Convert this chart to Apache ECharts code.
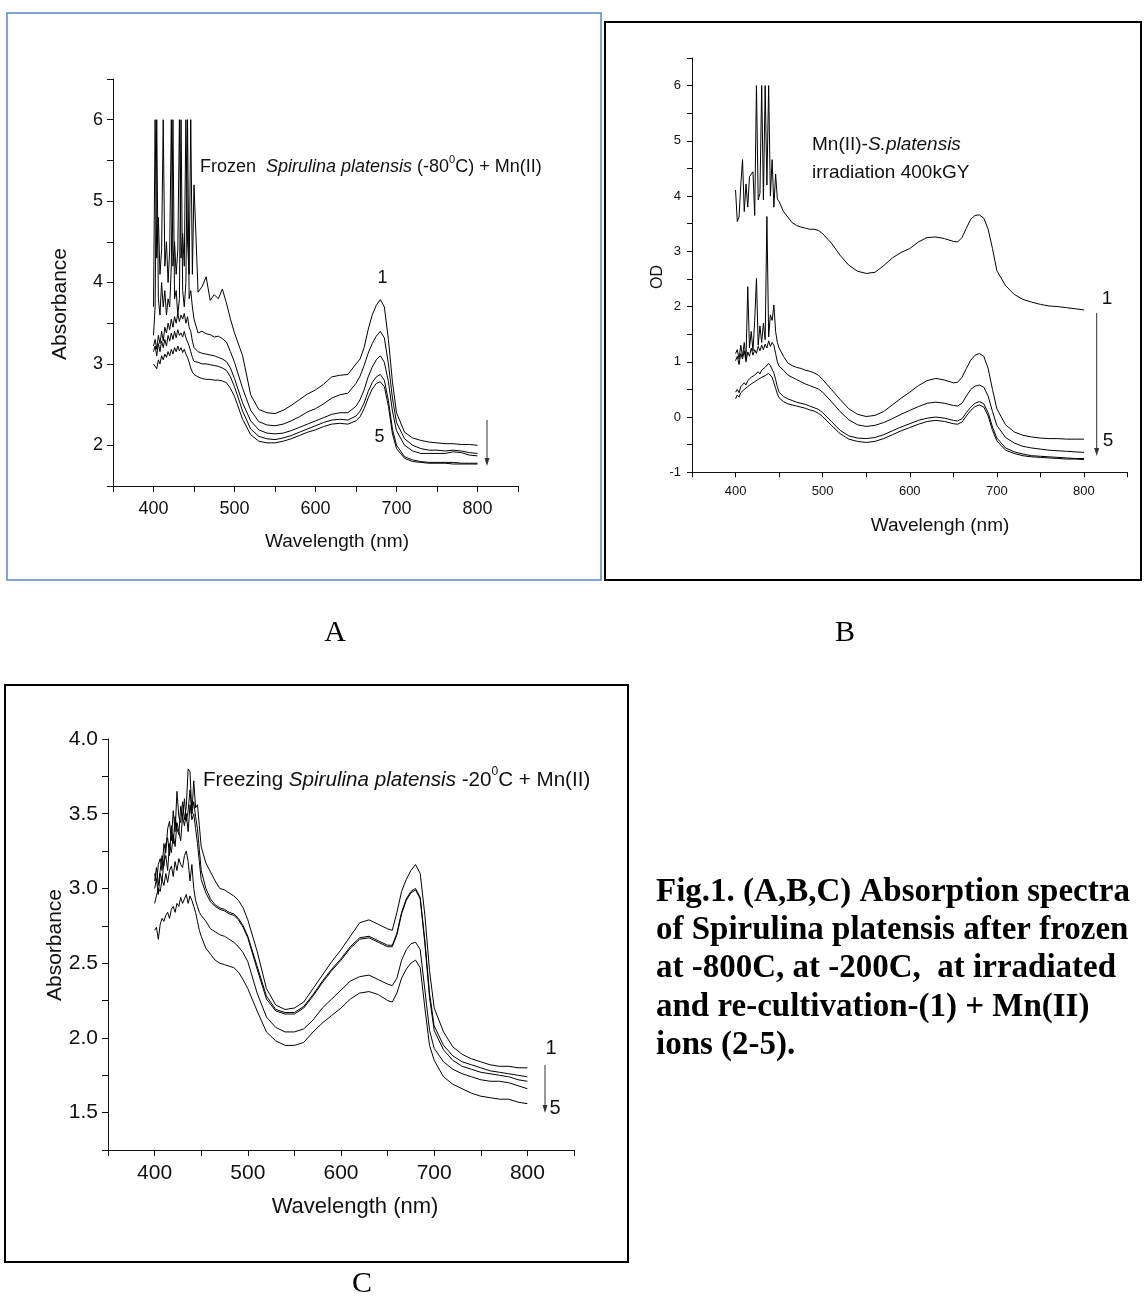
<!DOCTYPE html>
<html>
<head>
<meta charset="utf-8">
<script src="https://cdn.jsdelivr.net/npm/echarts@6/dist/echarts.min.js"></script>
<style>html,body{margin:0;padding:0;background:#fff;}#c{width:1146px;height:1298px;}</style>
</head>
<body>
<div id="c"></div>
<script>
// wavelengths (nm) shared by all curves
const WL = [400,402,404,406,408,410,412,414,416,418,420,422,424,426,428,430,432,434,436,438,440,442,444,446,448,450,
 455,460,465,470,475,480,485,490,495,500,
 510,520,530,540,550,560,570,580,590,600,610,620,630,640,650,
 655,660,665,670,675,680,685,690,695,700,
 710,720,730,740,750,760,770,780,790,800];

// Panel A: Frozen Spirulina platensis (-80C) + Mn(II)
const A1 = [3.70,6.0,4.3,4.8,4.1,4.4,6.0,4.2,4.5,4.0,4.4,6.0,4.2,4.5,4.1,4.4,6.0,4.3,4.6,4.2,6.0,4.5,4.1,6.0,4.1,5.2,
 3.88,3.95,4.07,3.78,3.85,3.80,3.92,3.75,3.55,3.38,
 3.10,2.62,2.44,2.40,2.39,2.43,2.49,2.56,2.63,2.68,2.75,2.84,2.86,2.87,3.00,
 3.06,3.20,3.42,3.60,3.72,3.79,3.70,3.30,2.78,2.40,
 2.16,2.09,2.06,2.04,2.03,2.02,2.02,2.01,2.01,2.00];
const A2 = [3.35,3.7,6.0,3.8,3.6,4.0,3.7,3.9,3.6,3.8,3.7,4.2,6.0,3.8,3.9,3.6,3.8,6.0,3.9,3.7,4.0,6.0,3.8,3.9,3.7,3.55,
 3.38,3.40,3.37,3.36,3.33,3.34,3.31,3.27,3.15,3.02,
 2.70,2.43,2.29,2.25,2.24,2.26,2.30,2.35,2.41,2.45,2.51,2.58,2.62,2.64,2.76,
 2.85,2.98,3.13,3.25,3.34,3.40,3.32,3.00,2.58,2.28,
 2.08,2.00,1.96,1.94,1.94,1.93,1.94,1.93,1.91,1.90];
const A3 = [3.22,3.30,3.18,3.35,3.25,3.40,3.28,3.45,3.38,3.50,3.42,3.55,3.45,3.58,3.50,3.62,3.52,3.60,3.55,3.62,3.50,3.58,3.45,3.40,3.28,3.20,
 3.15,3.13,3.12,3.11,3.10,3.08,3.06,3.03,2.95,2.82,
 2.52,2.30,2.19,2.15,2.14,2.15,2.18,2.22,2.26,2.30,2.34,2.38,2.40,2.40,2.48,
 2.56,2.68,2.84,2.96,3.05,3.10,3.02,2.78,2.42,2.18,
 2.00,1.93,1.90,1.90,1.90,1.90,1.92,1.91,1.88,1.87];
const A4 = [3.15,3.22,3.10,3.25,3.15,3.28,3.20,3.30,3.22,3.35,3.28,3.38,3.30,3.40,3.32,3.42,3.35,3.38,3.33,3.40,3.32,3.30,3.22,3.15,3.08,3.03,
 3.02,3.00,3.00,2.99,2.98,2.97,2.95,2.92,2.84,2.72,
 2.42,2.20,2.11,2.08,2.07,2.09,2.12,2.16,2.20,2.24,2.28,2.31,2.32,2.31,2.36,
 2.42,2.52,2.66,2.77,2.84,2.87,2.80,2.55,2.20,2.00,
 1.86,1.82,1.80,1.79,1.79,1.79,1.79,1.78,1.78,1.78];
const A5 = [3.00,3.02,2.94,3.05,3.00,3.10,3.05,3.12,3.08,3.15,3.10,3.18,3.12,3.20,3.15,3.22,3.16,3.20,3.14,3.18,3.12,3.08,3.02,2.95,2.90,2.87,
 2.84,2.82,2.81,2.81,2.80,2.80,2.79,2.77,2.70,2.60,
 2.32,2.13,2.05,2.03,2.03,2.05,2.08,2.12,2.16,2.19,2.23,2.26,2.27,2.26,2.30,
 2.35,2.45,2.58,2.69,2.76,2.78,2.72,2.48,2.14,1.96,
 1.84,1.80,1.79,1.78,1.78,1.78,1.77,1.77,1.77,1.77];

// Panel B: Mn(II)-S.platensis, irradiation 400kGY
const B1 = [4.11,3.54,3.62,4.20,4.66,3.72,4.22,3.80,4.35,4.40,4.44,3.65,6.0,3.93,4.05,6.0,3.93,6.0,4.2,6.0,4.0,4.66,3.80,4.40,3.95,3.90,
 3.72,3.62,3.52,3.47,3.44,3.42,3.40,3.40,3.38,3.32,
 3.15,2.93,2.75,2.64,2.60,2.62,2.74,2.88,2.98,3.05,3.17,3.25,3.26,3.23,3.18,
 3.17,3.25,3.42,3.58,3.65,3.66,3.60,3.40,3.05,2.65,
 2.38,2.22,2.13,2.08,2.04,2.01,2.00,1.98,1.96,1.94];
const B2 = [1.15,1.22,1.05,1.30,1.10,1.35,1.05,2.36,1.25,1.55,1.20,1.75,2.51,1.30,1.65,1.35,1.70,1.40,3.63,1.45,1.85,1.75,2.03,1.55,1.35,1.25,
 1.10,0.98,0.93,0.90,0.88,0.85,0.83,0.80,0.76,0.68,
 0.50,0.32,0.15,0.05,0.01,0.03,0.10,0.22,0.34,0.45,0.57,0.66,0.70,0.67,0.62,
 0.63,0.72,0.88,1.03,1.12,1.15,1.10,0.88,0.50,0.15,
 -0.14,-0.27,-0.33,-0.36,-0.38,-0.39,-0.39,-0.40,-0.40,-0.40];
const B3 = [1.02,1.10,0.95,1.15,1.05,1.20,1.00,1.18,1.10,1.25,1.12,1.22,1.15,1.28,1.20,1.30,1.22,1.32,1.25,1.38,1.28,1.35,1.30,1.15,1.00,0.92,
 0.85,0.76,0.72,0.68,0.64,0.60,0.57,0.54,0.51,0.45,
 0.28,0.10,-0.05,-0.14,-0.17,-0.15,-0.10,-0.03,0.05,0.12,0.19,0.25,0.27,0.25,0.21,
 0.20,0.25,0.38,0.50,0.56,0.58,0.54,0.38,0.10,-0.15,
 -0.37,-0.47,-0.53,-0.56,-0.58,-0.60,-0.61,-0.62,-0.63,-0.64];
const B4 = [0.45,0.50,0.44,0.55,0.52,0.62,0.58,0.66,0.64,0.72,0.70,0.76,0.74,0.82,0.78,0.85,0.83,0.90,0.88,0.97,0.93,0.90,0.80,0.68,0.55,0.45,
 0.37,0.33,0.30,0.27,0.25,0.23,0.20,0.17,0.14,0.08,
 -0.08,-0.24,-0.34,-0.38,-0.39,-0.37,-0.32,-0.25,-0.18,-0.12,-0.06,-0.02,0.00,-0.02,-0.06,
 -0.07,-0.03,0.08,0.18,0.25,0.28,0.24,0.08,-0.18,-0.38,
 -0.56,-0.63,-0.67,-0.70,-0.71,-0.72,-0.73,-0.74,-0.75,-0.75];
const B5 = [0.33,0.40,0.36,0.44,0.42,0.50,0.48,0.55,0.53,0.60,0.58,0.64,0.62,0.68,0.66,0.72,0.70,0.75,0.73,0.79,0.76,0.72,0.62,0.52,0.42,0.35,
 0.28,0.24,0.22,0.20,0.18,0.16,0.13,0.11,0.07,0.01,
 -0.15,-0.30,-0.40,-0.44,-0.46,-0.44,-0.39,-0.32,-0.25,-0.19,-0.13,-0.08,-0.06,-0.08,-0.12,
 -0.13,-0.09,0.02,0.12,0.19,0.22,0.18,0.02,-0.24,-0.43,
 -0.60,-0.66,-0.70,-0.72,-0.73,-0.74,-0.75,-0.76,-0.76,-0.77];

// Panel C: Freezing Spirulina platensis -20C + Mn(II)
const C1 = [3.10,3.04,3.16,3.20,3.12,3.30,3.24,3.40,3.45,3.32,3.52,3.38,3.65,3.48,3.44,3.58,3.46,3.55,3.80,3.78,3.50,3.72,3.54,3.56,3.42,3.28,
 3.17,3.11,3.05,3.00,2.99,2.97,2.95,2.92,2.87,2.79,
 2.58,2.33,2.22,2.19,2.20,2.24,2.33,2.42,2.51,2.59,2.68,2.77,2.79,2.76,2.73,
 2.72,2.84,2.98,3.06,3.12,3.16,3.10,2.82,2.45,2.20,
 2.04,1.94,1.89,1.86,1.84,1.82,1.81,1.81,1.80,1.80];
const C2 = [3.05,3.14,3.02,3.12,3.22,3.15,3.30,3.34,3.22,3.42,3.30,3.48,3.40,3.36,3.55,3.48,3.60,3.45,3.52,3.66,3.50,3.58,3.48,3.40,3.26,3.12,
 3.00,2.93,2.89,2.87,2.86,2.84,2.83,2.80,2.75,2.68,
 2.48,2.28,2.19,2.17,2.17,2.21,2.29,2.38,2.46,2.53,2.61,2.67,2.68,2.65,2.62,
 2.62,2.70,2.84,2.93,2.98,3.00,2.94,2.65,2.30,2.08,
 1.95,1.88,1.84,1.82,1.80,1.78,1.77,1.76,1.75,1.74];
const C3 = [3.00,3.06,2.96,3.10,3.05,3.18,3.22,3.12,3.30,3.24,3.36,3.28,3.44,3.38,3.32,3.48,3.42,3.50,3.38,3.56,3.46,3.50,3.40,3.30,3.18,3.06,
 2.97,2.91,2.88,2.86,2.85,2.83,2.82,2.79,2.74,2.67,
 2.46,2.26,2.18,2.16,2.16,2.20,2.28,2.37,2.45,2.52,2.60,2.66,2.67,2.64,2.61,
 2.61,2.69,2.83,2.92,2.97,2.99,2.93,2.63,2.27,2.05,
 1.92,1.85,1.81,1.79,1.77,1.76,1.75,1.74,1.72,1.71];
const C4 = [2.90,2.95,3.00,2.98,3.06,3.02,3.10,3.04,3.12,3.15,3.08,3.18,3.12,3.20,3.16,3.14,3.22,3.25,3.18,3.05,3.16,3.00,2.92,2.88,2.84,2.82,
 2.78,2.73,2.71,2.69,2.68,2.66,2.64,2.61,2.57,2.51,
 2.30,2.14,2.07,2.04,2.04,2.06,2.12,2.20,2.26,2.32,2.38,2.41,2.42,2.39,2.36,
 2.35,2.40,2.52,2.59,2.63,2.64,2.59,2.32,2.05,1.93,
 1.84,1.79,1.76,1.74,1.72,1.71,1.71,1.70,1.68,1.66];
const C5 = [2.72,2.74,2.66,2.76,2.80,2.78,2.82,2.84,2.80,2.86,2.88,2.84,2.90,2.88,2.94,2.90,2.93,2.96,2.90,2.95,2.92,2.88,2.84,2.78,2.72,2.68,
 2.60,2.56,2.52,2.50,2.49,2.48,2.47,2.44,2.39,2.33,
 2.18,2.04,1.98,1.95,1.95,1.97,2.04,2.10,2.15,2.20,2.26,2.30,2.31,2.29,2.25,
 2.24,2.30,2.40,2.46,2.50,2.52,2.47,2.20,1.95,1.85,
 1.74,1.69,1.66,1.63,1.61,1.60,1.59,1.59,1.57,1.56];

const SANS = '"Liberation Sans", Arial, sans-serif';
const SERIF = '"Liberation Serif", "Times New Roman", serif';
const INK = '#111';

const chart = echarts.init(document.getElementById('c'), null, {renderer: 'canvas'});

function pairs(arr) { return arr.map((v, i) => [WL[i], v]); }

function xAx(gi, fs, margin, tick) {
  return {
    gridIndex: gi, type: 'value', min: 350, max: 850, interval: 50,
    axisLine: {onZero: false, lineStyle: {color: INK, width: 1}},
    axisTick: {show: true, length: tick, lineStyle: {color: INK, width: 1}},
    axisLabel: {color: INK, fontFamily: SANS, fontSize: fs, margin: margin,
      formatter: v => (v % 100 === 0 ? String(v) : '')},
    splitLine: {show: false}
  };
}
function yAx(gi, min, max, step, fs, margin, tick, fmt) {
  return {
    gridIndex: gi, type: 'value', min: min, max: max, interval: step,
    axisLine: {show: true, onZero: false, lineStyle: {color: INK, width: 1}},
    axisTick: {show: true, length: tick, lineStyle: {color: INK, width: 1}},
    axisLabel: {color: INK, fontFamily: SANS, fontSize: fs, margin: margin, formatter: fmt},
    splitLine: {show: false}
  };
}
const intFmt = v => (Math.abs(v - Math.round(v)) < 1e-6 ? String(Math.round(v)) : '');
const halfFmt = v => (Math.abs(v * 2 - Math.round(v * 2)) < 1e-6 ? v.toFixed(1) : '');

function line(arr, gi) {
  return {type: 'line', xAxisIndex: gi, yAxisIndex: gi, data: pairs(arr), showSymbol: false, symbol: 'none',
    smooth: false, lineStyle: {color: '#000', width: 1}, silent: true, animation: false};
}

function txt(x, y, text, size, opts) {
  return Object.assign({type: 'text', z: 10, style: Object.assign({x: x, y: y, text: text,
    font: size + 'px ' + SANS, fill: INK, align: 'left', verticalAlign: 'middle'}, (opts && opts.style) || {})},
    opts && opts.rot ? {rotation: opts.rot, x: x, y: y, style: Object.assign({x: 0, y: 0, text: text, font: size + 'px ' + SANS, fill: INK, align: 'center', verticalAlign: 'middle'}, (opts && opts.style) || {})} : {});
}
function richTitle(x, y, size, parts) {
  return {type: 'text', z: 10, style: {x: x, y: y, text: parts, align: 'left', verticalAlign: 'middle',
    fill: INK, font: size + 'px ' + SANS,
    rich: {
      n: {fontFamily: SANS, fontSize: size, lineHeight: size + 8, fill: INK},
      i: {fontFamily: SANS, fontSize: size, fontStyle: 'italic', lineHeight: size + 8, fill: INK},
      s: {fontFamily: SANS, fontSize: Math.round(size * 0.6), lineHeight: Math.round(size * 0.6), verticalAlign: 'top', fill: INK}
    }}};
}
function arrow(x, y1, y2) {
  return [
    {type: 'line', shape: {x1: x, y1: y1, x2: x, y2: y2 - 6}, style: {stroke: '#333', lineWidth: 1}},
    {type: 'polygon', shape: {points: [[x - 2.5, y2 - 8], [x + 2.5, y2 - 8], [x, y2]]}, style: {fill: '#333'}}
  ];
}

const option = {
  backgroundColor: '#fff',
  animation: false,
  grid: [
    {left: 113, top: 79, width: 405, height: 407, containLabel: false},
    {left: 692, top: 58, width: 435.5, height: 414.3, containLabel: false},
    {left: 108, top: 739, width: 466, height: 411, containLabel: false}
  ],
  xAxis: [xAx(0, 18, 14, 6), xAx(1, 13, 13, 5), xAx(2, 21, 13, 6)],
  yAxis: [
    yAx(0, 1.5, 6.5, 0.5, 18, 10, 6, intFmt),
    yAx(1, -1, 6.5, 0.5, 13, 11, 5, intFmt),
    yAx(2, 1.25, 4, 0.25, 21, 10, 6, halfFmt)
  ],
  series: [
    line(A1, 0), line(A2, 0), line(A3, 0), line(A4, 0), line(A5, 0),
    line(B1, 1), line(B2, 1), line(B3, 1), line(B4, 1), line(B5, 1),
    line(C1, 2), line(C2, 2), line(C3, 2), line(C4, 2), line(C5, 2)
  ],
  graphic: [
    // panel frames
    {type: 'rect', shape: {x: 7, y: 13, width: 594, height: 567}, style: {fill: null, stroke: '#5a86c5', lineWidth: 1.5}},
    {type: 'rect', shape: {x: 605, y: 22, width: 536, height: 558}, style: {fill: null, stroke: '#000', lineWidth: 2}},
    {type: 'rect', shape: {x: 5, y: 685, width: 623, height: 577}, style: {fill: null, stroke: '#000', lineWidth: 2}},
    // axis names
    txt(60, 304, 'Absorbance', 21, {rot: Math.PI / 2}),
    txt(337, 542, 'Wavelength (nm)', 19, {style: {align: 'center'}}),
    txt(658, 277, 'OD', 16, {rot: Math.PI / 2}),
    txt(940, 526, 'Wavelengh (nm)', 19, {style: {align: 'center'}}),
    txt(55, 945, 'Absorbance', 21, {rot: Math.PI / 2}),
    txt(355, 1207, 'Wavelength (nm)', 22, {style: {align: 'center'}}),
    // in-plot titles
    richTitle(200, 167, 18, '{n|Frozen  }{i|Spirulina platensis}{n| (-80}{s|0}{n|C) + Mn(II)}'),
    richTitle(812, 145, 19, '{n|Mn(II)-}{i|S.platensis}'),
    txt(812, 173, 'irradiation 400kGY', 19),
    richTitle(203, 780, 20.6, '{n|Freezing }{i|Spirulina platensis}{n| -20}{s|0}{n|C + Mn(II)}'),
    // curve order marks
    txt(382.5, 278, '1', 18, {style: {align: 'center'}}),
    txt(379.5, 437, '5', 18, {style: {align: 'center'}}),
    txt(1107, 299, '1', 19, {style: {align: 'center'}}),
    txt(1108, 441, '5', 19, {style: {align: 'center'}}),
    txt(551, 1048, '1', 20, {style: {align: 'center'}}),
    txt(555, 1108, '5', 20, {style: {align: 'center'}}),
    ...arrow(487, 420, 466),
    ...arrow(1096.7, 313, 456),
    ...arrow(545, 1065, 1113),
    // panel letters
    {type: 'text', style: {x: 335, y: 633, text: 'A', font: '30px ' + SERIF, fill: '#000', align: 'center', verticalAlign: 'middle'}},
    {type: 'text', style: {x: 845, y: 633, text: 'B', font: '30px ' + SERIF, fill: '#000', align: 'center', verticalAlign: 'middle'}},
    {type: 'text', style: {x: 362, y: 1284, text: 'C', font: '30px ' + SERIF, fill: '#000', align: 'center', verticalAlign: 'middle'}},
    // caption
    {type: 'text', style: {x: 656, y: 873, text: 'Fig.1. (A,B,C) Absorption spectra\nof Spirulina platensis after frozen\nat -800C, at -200C,  at irradiated\nand re-cultivation-(1) + Mn(II)\nions (2-5).',
      font: 'bold 33px ' + SERIF, lineHeight: 38.3, fill: '#000', align: 'left', verticalAlign: 'top'}}
  ]
};
chart.setOption(option);
</script>
</body>
</html>
